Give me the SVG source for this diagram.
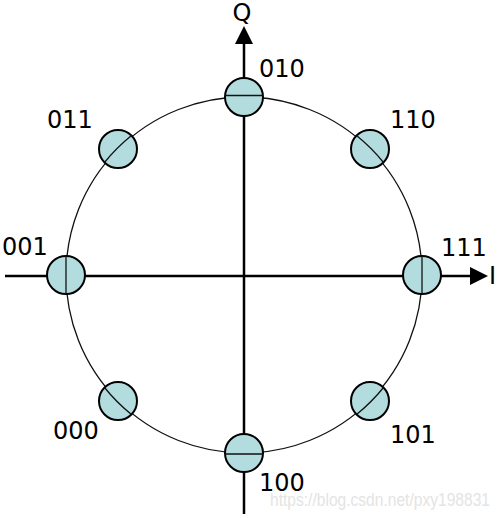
<svg xmlns="http://www.w3.org/2000/svg" width="500" height="518" viewBox="0 0 500 518">
<defs>
<style>
.ax{stroke:#000;stroke-width:2.5;fill:none}
.ring{stroke:#111;stroke-width:1.3;fill:none}
.pt{fill:#b3dcdf;stroke:#000;stroke-width:2}
.lb{font-family:"DejaVu Sans",sans-serif;font-size:24px;fill:#000}
.wm{font-family:"Liberation Sans",Arial,sans-serif;font-size:18px;fill:#e4e4e4}
</style>
</defs>
<rect width="500" height="518" fill="#fff"/>
<g id="connectors">
<line class="ax" x1="5" y1="276" x2="472" y2="276"/>
<polygon points="488,276 470,267 470,285" fill="#000"/>
<line class="ax" x1="244" y1="514" x2="244" y2="44"/>
<polygon points="244,26 235,44 253,44" fill="#000"/>
<circle class="ring" cx="244" cy="275" r="178"/>
</g>
<g id="axis-labels">
<text class="lb" x="242" y="21" text-anchor="middle" font-size="22">Q</text>
<text class="lb" x="489" y="284" font-size="22">I</text>
</g>
<g id="p010"><circle class="pt" cx="244" cy="97" r="19"/><line class="ring" x1="225" y1="95.5" x2="263" y2="95.5"/><text class="lb" x="259" y="77">010</text></g>
<g id="p110"><circle class="pt" cx="370" cy="149" r="19"/><path class="ring" d="M356.5,135.5 A178,178 0 0 1 383.5,162.5"/><text class="lb" x="390" y="128">110</text></g>
<g id="p111"><circle class="pt" cx="422" cy="275" r="19"/><line class="ring" x1="422" y1="256" x2="422" y2="294"/><text class="lb" x="441" y="256">111</text></g>
<g id="p101"><circle class="pt" cx="370" cy="401" r="19"/><path class="ring" d="M383.5,387.5 A178,178 0 0 1 356.5,414.5"/><text class="lb" x="390" y="443">101</text></g>
<g id="p100"><circle class="pt" cx="244" cy="453" r="19"/><line class="ring" x1="225" y1="454" x2="263" y2="454"/><text class="lb" x="259" y="491">100</text></g>
<g id="p000"><circle class="pt" cx="118" cy="401" r="19"/><path class="ring" d="M131.5,414.5 A178,178 0 0 1 104.5,387.5"/><text class="lb" x="53" y="439">000</text></g>
<g id="p001"><circle class="pt" cx="66" cy="275" r="19"/><line class="ring" x1="66" y1="256" x2="66" y2="294"/><text class="lb" x="2" y="255">001</text></g>
<g id="p011"><circle class="pt" cx="118" cy="149" r="19"/><path class="ring" d="M104.5,162.5 A178,178 0 0 1 131.5,135.5"/><text class="lb" x="47" y="128">011</text></g>
<text class="wm" x="270" y="506" textLength="220" lengthAdjust="spacingAndGlyphs">https://blog.csdn.net/pxy198831</text>
</svg>
